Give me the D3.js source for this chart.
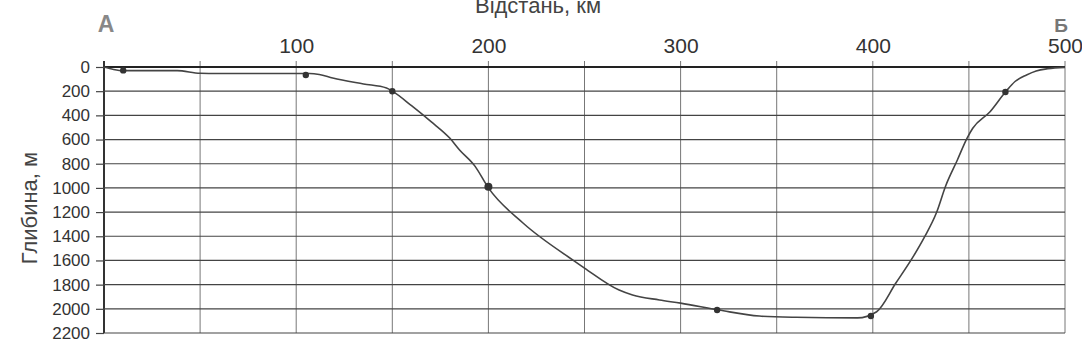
<!DOCTYPE html>
<meta charset="utf-8">
<title>Профіль глибини</title>
<script src="https://d3js.org/d3.v7.min.js"></script>
<style>
  body { margin: 0; background: #fff; }
  text { font-family: "Liberation Sans", Arial, sans-serif; }
</style>
<body>
<div id="chart"></div>
<script>
// distance along the section, km
var profileKm = [0, 5, 10, 25, 38, 50, 59, 80, 107, 112, 119, 135, 147, 150,
  160, 170, 180, 185, 193, 200, 218, 244, 250, 268, 275, 289, 300, 320, 341,
  360, 392, 402, 412, 421, 427, 433, 438, 444, 449, 452, 461, 469, 474, 480, 485, 491, 500];
// depth, m
var profileDepth = [0, 20, 30, 30, 30, 52, 54, 54, 54, 62, 91, 140, 174, 200,
  320, 450, 590, 686, 820, 1000, 1290, 1597, 1663, 1845, 1886, 1927, 1953, 2010, 2060,
  2070, 2075, 2024, 1787, 1569, 1403, 1210, 980, 769, 590, 507, 370, 207, 120, 66, 33, 14, 3];

// marked stations
var dotKm = [10, 105, 150, 200, 319, 399, 469];
var dotDepth = [28, 66, 200, 990, 2010, 2060, 207];

var xTicks = [100, 200, 300, 400, 500];
var yTicks = d3.range(0, 2201, 200);
var xGrid = d3.range(0, 501, 50);

var W = 1082, H = 347;
var margin = { left: 104, right: 1065, top: 67, bottom: 333 };

var svg = d3.select("#chart").append("svg")
  .attr("width", W).attr("height", H);
svg.append("rect").attr("width", W).attr("height", H).attr("fill", "#fff");

var x = d3.scaleLinear().domain([0, 500]).range([margin.left, margin.right]);
var y = d3.scaleLinear().domain([0, 2200]).range([margin.top, margin.bottom]);

// vertical grid
svg.append("g").selectAll("line").data(xGrid).enter().append("line")
  .attr("x1", function (d) { return x(d); }).attr("x2", function (d) { return x(d); })
  .attr("y1", margin.top - 6).attr("y2", margin.bottom)
  .attr("stroke", function (d) { return d === 0 ? "#333" : "#777"; })
  .attr("stroke-width", function (d) { return d === 0 ? 2 : 1; });

// horizontal grid
svg.append("g").selectAll("line").data(yTicks).enter().append("line")
  .attr("x1", margin.left).attr("x2", margin.right)
  .attr("y1", function (d) { return y(d); }).attr("y2", function (d) { return y(d); })
  .attr("stroke", function (d) { return d === 0 ? "#222" : "#444"; })
  .attr("stroke-width", function (d) { return d === 0 ? 2 : 1.2; });

// x axis labels on top
var gx = svg.append("g").attr("transform", "translate(0," + margin.top + ")")
  .call(d3.axisTop(x).tickValues(xTicks).tickSize(0).tickPadding(14));
gx.select(".domain").remove();
gx.selectAll("text").attr("font-size", 21).attr("fill", "#333")
  .attr("font-family", "Liberation Sans, Arial, sans-serif");

// y axis
var gy = svg.append("g").attr("transform", "translate(" + margin.left + ",0)")
  .call(d3.axisLeft(y).tickValues(yTicks).tickFormat(d3.format("d")).tickSize(8).tickPadding(6));
gy.select(".domain").remove();
gy.selectAll(".tick line").attr("stroke", "#444").attr("stroke-width", 1.2);
gy.selectAll("text").attr("font-size", 17).attr("fill", "#333")
  .attr("font-family", "Liberation Sans, Arial, sans-serif");

// profile line
var line = d3.line()
  .x(function (d) { return x(d[0]); })
  .y(function (d) { return y(d[1]); })
  .curve(d3.curveMonotoneX);
svg.append("path")
  .datum(d3.zip(profileKm, profileDepth))
  .attr("d", line)
  .attr("fill", "none").attr("stroke", "#444").attr("stroke-width", 1.6);

// dots
svg.append("g").selectAll("circle").data(d3.zip(dotKm, dotDepth)).enter().append("circle")
  .attr("cx", function (d) { return x(d[0]); })
  .attr("cy", function (d) { return y(d[1]); })
  .attr("r", function (d) { return d[0] === 200 ? 4 : 3.2; })
  .attr("fill", "#333");

// titles
svg.append("text").attr("x", 538).attr("y", 13).attr("text-anchor", "middle")
  .attr("font-size", 22).attr("fill", "#444").text("Відстань, км");
svg.append("text").attr("transform", "translate(37,208) rotate(-90)")
  .attr("text-anchor", "middle").attr("font-size", 22).attr("fill", "#444")
  .text("Глибина, м");
svg.append("text").attr("x", 106).attr("y", 32).attr("text-anchor", "middle")
  .attr("font-size", 23).attr("font-weight", "bold").attr("fill", "#888").text("А");
svg.append("text").attr("x", 1061).attr("y", 32).attr("text-anchor", "middle")
  .attr("font-size", 19).attr("font-weight", "bold").attr("fill", "#777").text("Б");
</script>
</body>
